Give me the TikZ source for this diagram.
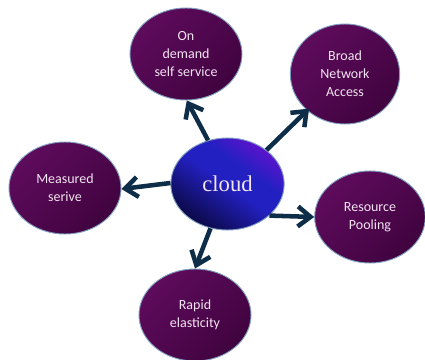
\documentclass[tikz,border=0pt]{standalone}
\usepackage{fontspec}
\setmainfont{Carlito}
\newfontfamily\cloudfont{Liberation Serif}
\usepackage{xcolor}
\usetikzlibrary{shapes.geometric,arrows.meta}
\definecolor{arrowblue}{HTML}{0E2D48}
\definecolor{rimblue}{HTML}{7F9DC0}
\definecolor{plumlight}{HTML}{5E0B5C}
\definecolor{plumdark}{HTML}{40033F}
\definecolor{textpink}{HTML}{F2E4F0}
\definecolor{hubdark}{HTML}{0A0840}
\definecolor{hubblue}{HTML}{2320C2}
\definecolor{hubviolet}{HTML}{6212CC}
\pgfdeclareverticalshading{hubshade}{100bp}{color(0bp)=(hubdark); color(24bp)=(hubdark);
    color(50bp)=(hubblue); color(61bp)=(hubblue); color(76bp)=(hubviolet); color(100bp)=(hubviolet)}

\begin{document}
\begin{tikzpicture}[x=0.75pt,y=-0.75pt,
    feature/.style={ellipse, draw=rimblue, line width=0.7pt, inner sep=0pt,
        minimum width=84pt, minimum height=69pt,
        top color=plumlight, bottom color=plumdark, shading angle=45,
        text=textpink, align=center, font=\fontsize{10.5}{13.5}\selectfont},
    hub/.style={ellipse, draw=rimblue, line width=0.7pt, inner sep=0pt,
        minimum width=85pt, minimum height=69pt,
        shading=hubshade, shading angle=-35,
        text=textpink, font=\cloudfont\fontsize{17}{20}\selectfont},
    link/.style={-{Straight Barb[length=9.5pt,width=15pt]}, arrowblue, line width=3.4pt}]
    \useasboundingbox (0,0) rectangle (425,360);
    \node[hub] (cloud) at (227.5,184) {cloud};
    \node[feature] (demand) at (186,54) {On\\demand\\self service};
    \node[feature, minimum width=82pt, minimum height=75pt] (broad) at (345,74) {Broad\\Network\\Access};
    \node[feature] (measured) at (65,188) {Measured\\serive};
    \node[feature, minimum width=83pt] (resource) at (370,217) {Resource\\Pooling};
    \node[feature] (rapid) at (195,315) {Rapid\\elasticity};

    \draw[link] (cloud.114) -- (demand.-89);
    \draw[link] (cloud.41) -- ([shift={(2,-2)}]broad.-136);
    \draw[link] (cloud.179) -- (measured.-1);
    \draw[link] (cloud.-37) -- (resource.west);
    \draw[link] (cloud.-111) -- (rapid.north);
\end{tikzpicture}
\end{document}
